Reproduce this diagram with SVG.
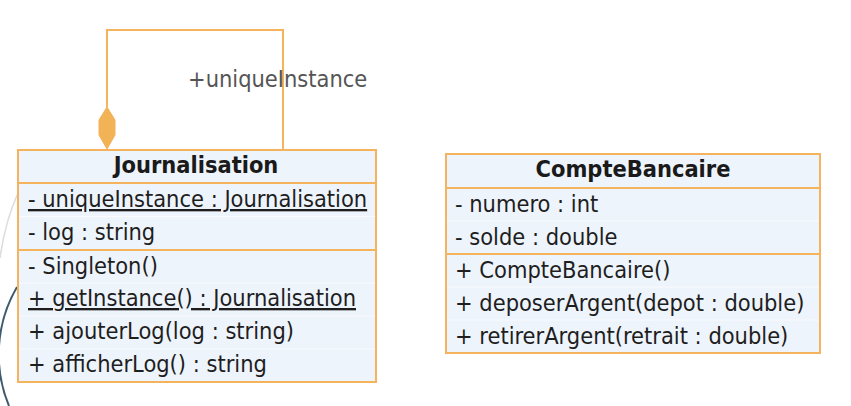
<svg xmlns="http://www.w3.org/2000/svg" width="851" height="406" viewBox="0 0 851 406">
<style>
.box{fill:#eef4fb;stroke:#f4b35c;stroke-width:2}
.sep{stroke:#f4b35c;stroke-width:2}
.row{stroke:#f9fbfe;stroke-width:1}
.t{font-family:"DejaVu Sans Condensed","DejaVu Sans",sans-serif;font-stretch:condensed;font-size:23.4px;fill:#1e1e1e}
.h{font-family:"DejaVu Sans Condensed","DejaVu Sans",sans-serif;font-stretch:condensed;font-size:23.4px;font-weight:bold;fill:#1a1a1a;text-anchor:middle}
.u{text-decoration:underline}
.lbl{font-family:"DejaVu Sans Condensed","DejaVu Sans",sans-serif;font-stretch:condensed;font-size:23.4px;fill:#555}
.conn{fill:none;stroke:#f4b35c;stroke-width:2}
</style>
<rect width="851" height="406" fill="#ffffff"/>
<g id="background">
<path d="M18,193 Q5,222 0,258" fill="none" stroke="#d9dde0" stroke-width="1.5"/>
<path d="M17,287 A134,134 0 0 0 9,406" fill="none" stroke="#3f5b70" stroke-width="2"/>
</g>
<g id="connectors">
<path class="conn" d="M107,107 V30 H283 V150"/>
<polygon points="107,107 115,120 115,135 107,149 99,135 99,120" fill="#f2b256" stroke="#f2b256" stroke-width="1"/>
<text class="lbl" x="188" y="87">+uniqueInstance</text>
</g>
<g id="Journalisation">
<rect class="box" x="18" y="150" width="358" height="232"/>
<line class="sep" x1="18" y1="183" x2="376" y2="183"/>
<line class="sep" x1="18" y1="250" x2="376" y2="250"/>
<line class="row" x1="19" y1="216.5" x2="375" y2="216.5"/>
<line class="row" x1="19" y1="283" x2="375" y2="283"/>
<line class="row" x1="19" y1="316" x2="375" y2="316"/>
<line class="row" x1="19" y1="349" x2="375" y2="349"/>
<text class="h" x="196" y="173">Journalisation</text>
<text class="t u" x="28" y="207">- uniqueInstance : Journalisation</text>
<text class="t" x="28" y="240">- log : string</text>
<text class="t" x="28" y="274">- Singleton()</text>
<text class="t u" x="28" y="306">+ getInstance() : Journalisation</text>
<text class="t" x="28" y="339">+ ajouterLog(log : string)</text>
<text class="t" x="28" y="372">+ afficherLog() : string</text>
</g>
<g id="CompteBancaire">
<rect class="box" x="446" y="154" width="374" height="199"/>
<line class="sep" x1="446" y1="188" x2="820" y2="188"/>
<line class="sep" x1="446" y1="254" x2="820" y2="254"/>
<line class="row" x1="447" y1="221" x2="819" y2="221"/>
<line class="row" x1="447" y1="287" x2="819" y2="287"/>
<line class="row" x1="447" y1="320" x2="819" y2="320"/>
<text class="h" x="633" y="177">CompteBancaire</text>
<text class="t" x="455" y="212">- numero : int</text>
<text class="t" x="455" y="245">- solde : double</text>
<text class="t" x="455" y="278">+ CompteBancaire()</text>
<text class="t" x="455" y="311">+ deposerArgent(depot : double)</text>
<text class="t" x="455" y="344">+ retirerArgent(retrait : double)</text>
</g>
</svg>
